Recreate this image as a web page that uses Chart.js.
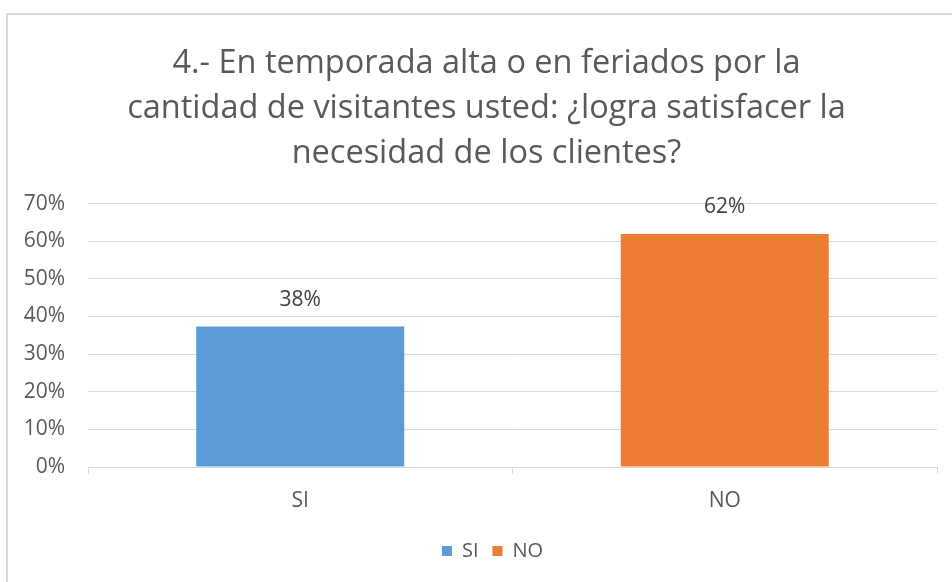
<!DOCTYPE html>
<html>
<head>
<meta charset="utf-8">
<script src="https://cdn.jsdelivr.net/npm/chart.js@4.4.1/dist/chart.umd.min.js"></script>
<style>
  html, body { margin: 0; padding: 0; background: #ffffff; overflow: hidden; }
  #frame { position: absolute; left: 6px; top: 13px; width: 1000px; height: 1000px; border: 2px solid #d9d9d9; box-sizing: border-box; }
  #wrap { position: absolute; left: 0; top: 0; width: 952px; height: 582px; }
</style>
</head>
<body>
<div id="frame"></div>
<div id="wrap"><canvas id="c" width="952" height="582"></canvas></div>
<script>
const categories = ["SI", "NO"];
const values = [37.3, 61.9];
const valueLabels = ["38%", "62%"];
const barColors = ["#5b9bd5", "#ed7d31"];
const titleLines = ["4.- En temporada alta o en feriados por la", "cantidad de visitantes usted: ¿logra satisfacer la", "necesidad de los clientes?"];
const yTicks = [0, 10, 20, 30, 40, 50, 60, 70];

const FONT = "'Open Sans', sans-serif";

const valueLabelPlugin = {
  id: 'valueLabels',
  afterDatasetsDraw(chart) {
    const ctx = chart.ctx;
    chart.data.datasets.forEach((ds, di) => {
      const meta = chart.getDatasetMeta(di);
      if (meta.hidden) return;
      meta.data.forEach((bar, i) => {
        if (ds.data[i] == null) return;
        ctx.save();
        ctx.font = "21px " + FONT;
        ctx.fillStyle = "#404040";
        ctx.textAlign = "center";
        ctx.textBaseline = "middle";
        ctx.fillText(valueLabels[i], bar.x, bar.y - 27);
        ctx.restore();
      });
    });
  }
};

const blockShiftPlugin = {
  id: 'blockShift',
  afterLayout(chart) {
    const t = chart.titleBlock;
    if (t) { t.left += 18; t.right += 18; }
    const l = chart.legend;
    if (l) { l.left += 24; l.right += 24; }
  }
};

new Chart(document.getElementById('c'), {
  type: 'bar',
  data: {
    labels: categories,
    datasets: categories.map((cat, i) => ({
      label: cat,
      data: categories.map((c, j) => j === i ? values[j] : null),
      backgroundColor: barColors[i],
      borderWidth: 0,
      categoryPercentage: 1,
      barPercentage: 0.49,
      grouped: false
    }))
  },
  options: {
    responsive: false,
    animation: false,
    devicePixelRatio: 1,
    layout: { padding: { left: 0, right: 15, top: 0, bottom: 11 } },
    plugins: {
      title: {
        display: true,
        text: titleLines,
        color: "#595959",
        font: { family: FONT, size: 32.5, weight: 'normal', lineHeight: 1.39 },
        padding: { top: 41, bottom: 27 }
      },
      legend: {
        display: true,
        position: 'bottom',
        labels: {
          color: "#595959",
          font: { family: FONT, size: 20 },
          boxWidth: 10,
          boxHeight: 10,
          padding: 14,
          generateLabels(chart) {
            return categories.map((c, i) => ({
              text: c, fillStyle: barColors[i], strokeStyle: barColors[i], lineWidth: 0, hidden: false, datasetIndex: i, fontColor: "#595959"
            }));
          }
        }
      },
      tooltip: { enabled: false }
    },
    scales: {
      x: {
        offset: true,
        afterFit(scale) { scale.height = 60; },
        grid: { display: true, drawOnChartArea: false, color: "#d9d9d9", lineWidth: 1, tickLength: 7, offset: true },
        border: { display: true, color: "#d9d9d9", width: 1 },
        ticks: { color: "#595959", font: { family: FONT, size: 21 }, padding: 14 }
      },
      y: {
        min: 0, max: 70,
        afterBuildTicks(scale) { scale.ticks = yTicks.map(v => ({ value: v })); },
        afterFit(scale) { scale.width = 88; },
        grid: { color: "#d9d9d9", lineWidth: 1, drawTicks: false },
        border: { display: false },
        ticks: { color: "#595959", font: { family: FONT, size: 21 }, padding: 23, callback: v => v + "%" }
      }
    }
  },
  plugins: [valueLabelPlugin, blockShiftPlugin]
});
</script>
</body>
</html>
